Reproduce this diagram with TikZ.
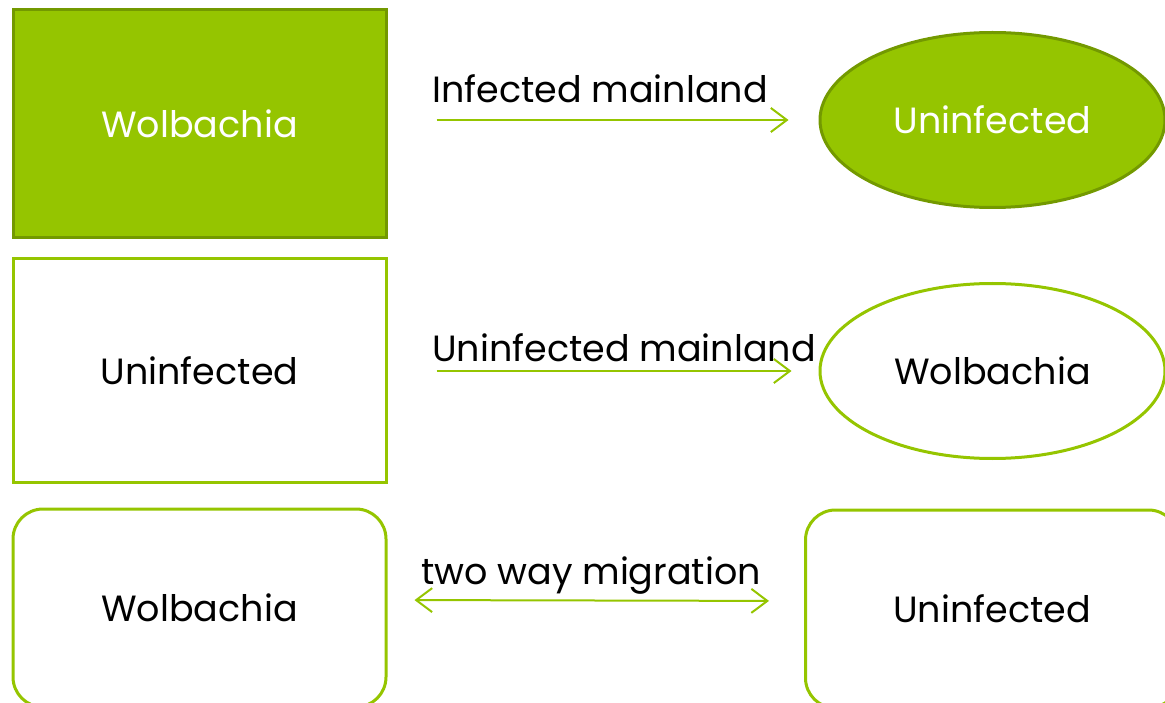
\documentclass[tikz,border=0pt]{standalone}
\usepackage{fontspec}
\setmainfont{Poppins}
\usetikzlibrary{shapes.geometric,arrows.meta}
\definecolor{leaf}{RGB}{149,197,0}
\definecolor{leafdark}{RGB}{115,153,0}

\begin{document}
\begin{tikzpicture}[x=1pt,y=-1pt,
  every node/.style={font=\fontsize{36.5}{42}\selectfont},
  fullbox/.style={draw=leafdark,fill=leaf,line width=3pt,text=white,
    minimum width=373pt,minimum height=228pt},
  openbox/.style={draw=leaf,fill=white,line width=3pt,
    minimum width=373pt,minimum height=223pt},
  softbox/.style={draw=leaf,fill=white,line width=3pt,rounded corners=30pt,
    minimum width=373pt,minimum height=198pt},
  fullblob/.style={ellipse,draw=leafdark,fill=leaf,line width=3pt,text=white,
    minimum width=345pt,minimum height=175pt},
  openblob/.style={ellipse,draw=leaf,fill=white,line width=3pt,
    minimum width=345pt,minimum height=175pt},
  flow/.style={draw=leaf,line width=2pt,-{Straight Barb[length=16pt,width=24pt,line width=2pt]}},
  both/.style={flow,{Straight Barb[length=16pt,width=24pt,line width=2pt]}-{Straight Barb[length=16pt,width=24pt,line width=2pt]}},
  tag/.style={anchor=base west,inner sep=0pt}]
  \useasboundingbox (0,0) rectangle (1165,703);
  \clip (0,0) rectangle (1165,703);

  % top row
  \node[fullbox] (w1) at (199.5,124) {Wolbachia};
  \node[fullblob] (u1) at (992.5,120) {Uninfected};
  \node[tag] (l1) at (432,103) {Infected mainland};
  \draw[flow,shorten <=49pt,shorten >=30pt] (w1.east |- u1) -- (u1.west);

  % middle row
  \node[openbox] (u2) at (199.5,370.5) {Uninfected};
  \node[openblob] (w2) at (992.5,371) {Wolbachia};
  \node[tag] (l2) at (432,362) {Uninfected mainland};
  \draw[flow,shorten <=49pt,shorten >=27pt] (u2.east |- w2) -- (w2.west);

  % bottom row
  \node[softbox] (w3) at (199.5,608) {Wolbachia};
  \node[softbox] (u3) at (992,609) {Uninfected};
  \node[tag] (l3) at (421,584) {two way migration};
  \draw[both,shorten <=27pt,shorten >=35pt] ([yshift=8pt]w3.east) -- ([yshift=8pt]u3.west);
\end{tikzpicture}
\end{document}
